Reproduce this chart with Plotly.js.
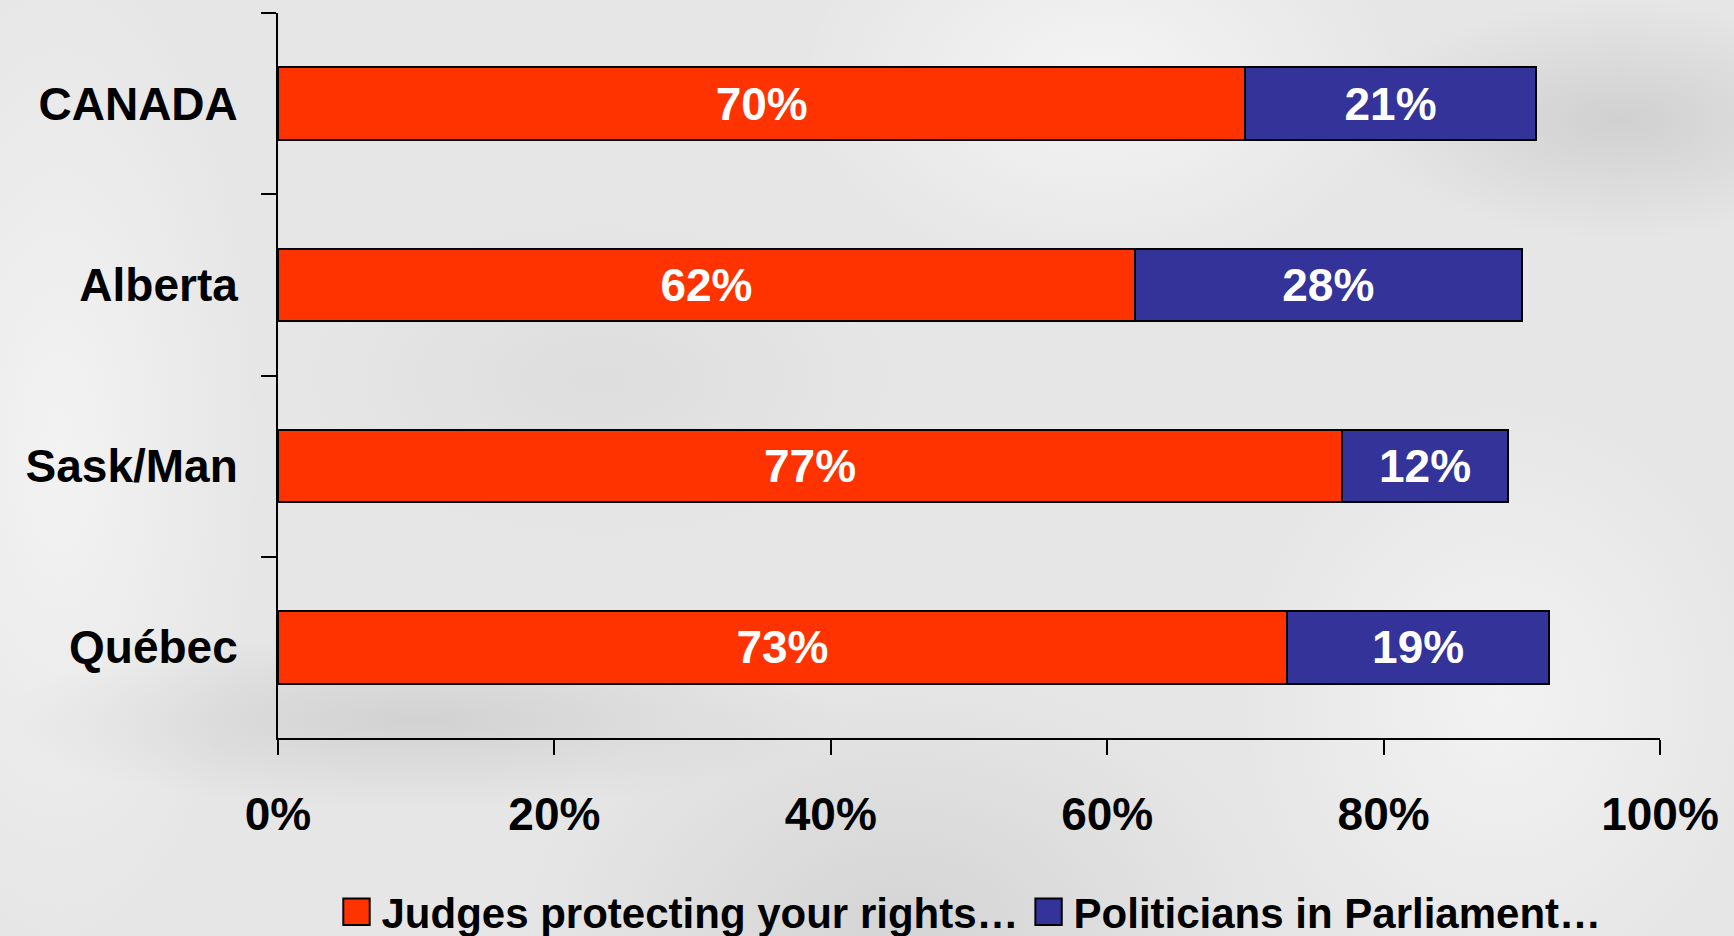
<!DOCTYPE html>
<html>
<head>
<meta charset="utf-8">
<script src="https://cdn.plot.ly/plotly-3.0.1.min.js"></script>
<style>
html, body { margin:0; padding:0; width:1734px; height:936px; overflow:hidden; }
body {
  background:
    radial-gradient(ellipse 260px 120px at 1620px 120px, rgba(190,190,190,0.55), rgba(190,190,190,0) 100%),
    radial-gradient(ellipse 420px 90px at 420px 720px, rgba(185,185,185,0.45), rgba(185,185,185,0) 100%),
    radial-gradient(ellipse 380px 260px at 900px 930px, rgba(195,195,195,0.5), rgba(195,195,195,0) 100%),
    radial-gradient(ellipse 300px 200px at 1100px 80px, rgba(250,250,250,0.7), rgba(250,250,250,0) 100%),
    radial-gradient(ellipse 260px 300px at 1500px 700px, rgba(250,250,250,0.6), rgba(250,250,250,0) 100%),
    radial-gradient(ellipse 200px 500px at 60px 450px, rgba(248,248,248,0.7), rgba(248,248,248,0) 100%),
    radial-gradient(ellipse 300px 160px at 600px 380px, rgba(205,205,205,0.35), rgba(205,205,205,0) 100%),
    #e6e6e6;
}
#chart { width:1734px; height:936px; }
</style>
</head>
<body>
<div id="chart"></div>
<script>
var categories = ["CANADA", "Alberta", "Sask/Man", "Québec"];
var judges = [70, 62, 77, 73];
var politicians = [21, 28, 12, 19];
var seriesNames = ["Judges protecting your rights…", "Politicians in Parliament…"];
var tickValues = [0, 20, 40, 60, 80, 100];
var tickLabels = ["0%", "20%", "40%", "60%", "80%", "100%"];

var FONT = "Liberation Sans, Arial, sans-serif";

function barTrace(name, vals, color) {
  return {
    type: "bar",
    orientation: "h",
    name: name,
    y: categories,
    x: vals,
    text: vals.map(function(v){ return v + "%"; }),
    textposition: "inside",
    insidetextanchor: "middle",
    constraintext: "none",
    textfont: { family: FONT, size: 46, color: "#ffffff", weight: "bold" },
    hoverinfo: "none",
    marker: { color: color, line: { color: "#000000", width: 2 } }
  };
}

var data = [
  barTrace(seriesNames[0], judges, "#ff3300"),
  barTrace(seriesNames[1], politicians, "#333399")
];

var layout = {
  width: 1734,
  height: 936,
  paper_bgcolor: "rgba(0,0,0,0)",
  plot_bgcolor: "rgba(0,0,0,0)",
  margin: { l: 278, r: 74, t: 13, b: 198, autoexpand: false },
  barmode: "stack",
  bargap: 0.6,
  showlegend: true,
  font: { family: FONT, color: "#000000", weight: "bold" },
  xaxis: {
    range: [0, 100],
    tickvals: tickValues,
    ticktext: tickLabels,
    showgrid: false,
    zeroline: false,
    showline: true,
    linecolor: "#000000",
    linewidth: 2,
    ticks: "outside",
    ticklen: 15,
    tickwidth: 2,
    tickcolor: "#000000",
    ticklabelstandoff: 20,
    tickfont: { family: FONT, size: 46, color: "#000000", weight: "bold" },
    automargin: false,
    fixedrange: true
  },
  yaxis: {
    type: "category",
    categoryorder: "array",
    categoryarray: categories,
    autorange: "reversed",
    showgrid: false,
    zeroline: false,
    showline: true,
    linecolor: "#000000",
    linewidth: 2,
    ticks: "outside",
    tickson: "boundaries",
    ticklen: 15,
    tickwidth: 2,
    tickcolor: "#000000",
    ticklabelstandoff: 29,
    tickfont: { family: FONT, size: 46, color: "#000000", weight: "bold" },
    automargin: false,
    fixedrange: true
  },
  legend: {
    orientation: "h",
    x: 0.5,
    xanchor: "center",
    y: -0.24,
    yanchor: "middle",
    font: { family: FONT, size: 42, color: "#000000", weight: "bold" },
    bgcolor: "rgba(0,0,0,0)",
    traceorder: "normal",
    itemwidth: 40
  }
};

Plotly.newPlot("chart", data, layout, { staticPlot: true, displayModeBar: false }).then(function(gd){
  // enlarge the legend swatches to match the reference's square keys (keep Plotly's own offset)
  gd.querySelectorAll(".legend .legendpoints path").forEach(function(p){
    var t = p.getAttribute("transform") || "";
    p.setAttribute("transform", t + " scale(2.2)");
    p.style.strokeWidth = "0.9px";
  });
});
</script>
</body>
</html>
